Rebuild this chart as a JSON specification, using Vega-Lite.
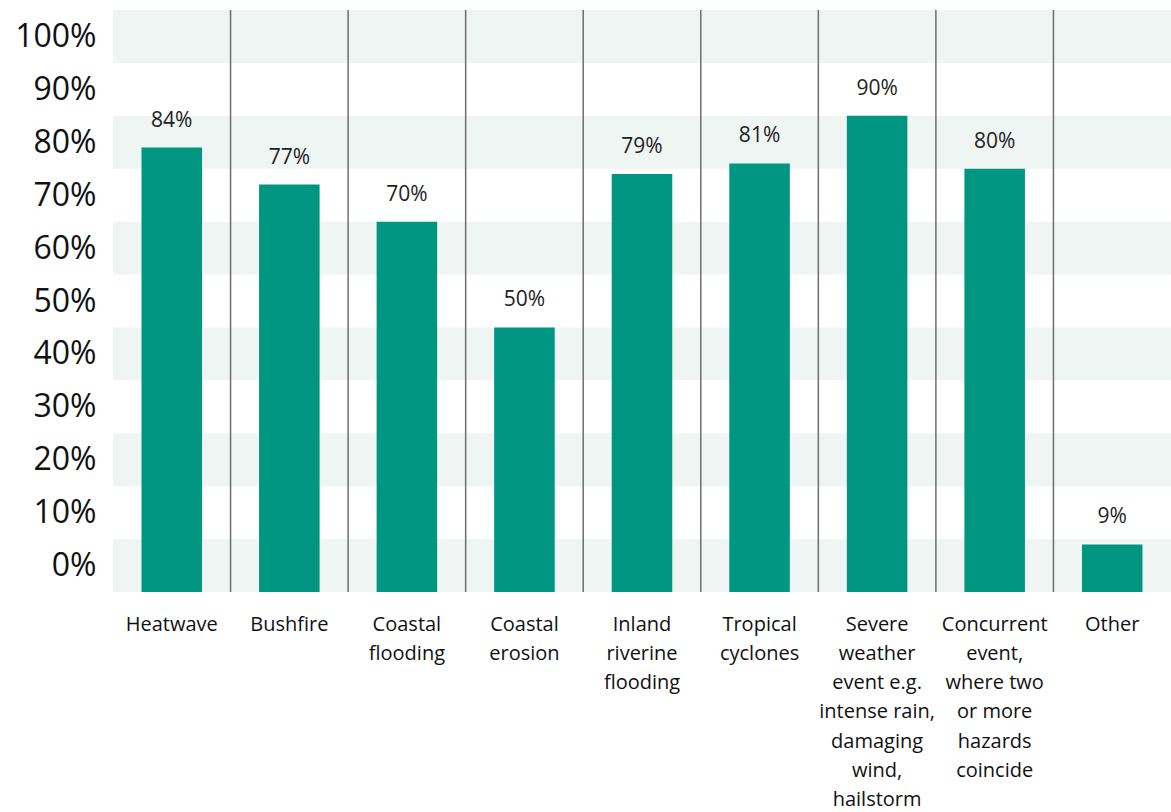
{
  "$schema": "https://vega.github.io/schema/vega-lite/v6.json",
  "width": 1058,
  "height": 582,
  "autosize": "none",
  "padding": {"left": 113, "top": 10, "right": 0, "bottom": 220},
  "background": "white",
  "config": {"view": {"stroke": null}},
  "datasets": {
    "responses": [
      {"hazard": "Heatwave", "share": 0.84},
      {"hazard": "Bushfire", "share": 0.77},
      {"hazard": "Coastal flooding", "share": 0.70},
      {"hazard": "Coastal erosion", "share": 0.50},
      {"hazard": "Inland riverine flooding", "share": 0.79},
      {"hazard": "Tropical cyclones", "share": 0.81},
      {"hazard": "Severe weather event e.g. intense rain, damaging wind, hailstorm", "share": 0.90},
      {"hazard": "Concurrent event, where two or more hazards coincide", "share": 0.80},
      {"hazard": "Other", "share": 0.09}
    ],
    "stripes": [
      {"from": 0.0, "to": 0.1},
      {"from": 0.2, "to": 0.3},
      {"from": 0.4, "to": 0.5},
      {"from": 0.6, "to": 0.7},
      {"from": 0.8, "to": 0.9},
      {"from": 1.0, "to": 1.1}
    ]
  },
  "layer": [
    {
      "data": {"name": "stripes"},
      "mark": {"type": "rect", "color": "#eff5f3"},
      "encoding": {
        "y": {
          "field": "from",
          "type": "quantitative",
          "scale": {"domain": [0, 1.1], "nice": false, "zero": true},
          "axis": {
            "title": null,
            "values": [0.05, 0.15, 0.25, 0.35, 0.45, 0.55, 0.65, 0.75, 0.85, 0.95, 1.05],
            "labelExpr": "format(datum.value - 0.05, '.0%')",
            "grid": false,
            "ticks": false,
            "domain": false,
            "labelFont": "Open Sans",
            "labelFontSize": 32,
            "labelColor": "#111111",
            "labelPadding": 17,
            "labelBaseline": "middle"
          }
        },
        "y2": {"field": "to"}
      }
    },
    {
      "data": {"name": "responses"},
      "mark": {"type": "bar", "color": "#009682", "width": {"band": 0.515}},
      "encoding": {
        "x": {
          "field": "hazard",
          "type": "nominal",
          "sort": null,
          "scale": {
            "domain": ["Heatwave", "Bushfire", "Coastal flooding", "Coastal erosion", "Inland riverine flooding", "Tropical cyclones", "Severe weather event e.g. intense rain, damaging wind, hailstorm", "Concurrent event, where two or more hazards coincide", "Other"],
            "paddingInner": 0,
            "paddingOuter": 0
          },
          "axis": {
            "title": null,
            "labelAngle": 0,
            "labelAlign": "center",
            "bandPosition": 0.5,
            "ticks": false,
            "domain": false,
            "labelFont": "Open Sans",
            "labelFontSize": 20,
            "labelColor": "#111111",
            "labelPadding": 22,
            "labelLineHeight": 29.3,
            "labelLimit": 200,
            "labelExpr": "{'Heatwave': ['Heatwave'], 'Bushfire': ['Bushfire'], 'Coastal flooding': ['Coastal', 'flooding'], 'Coastal erosion': ['Coastal', 'erosion'], 'Inland riverine flooding': ['Inland', 'riverine', 'flooding'], 'Tropical cyclones': ['Tropical', 'cyclones'], 'Severe weather event e.g. intense rain, damaging wind, hailstorm': ['Severe', 'weather', 'event e.g.', 'intense rain,', 'damaging', 'wind,', 'hailstorm'], 'Concurrent event, where two or more hazards coincide': ['Concurrent', 'event,', 'where two', 'or more', 'hazards', 'coincide'], 'Other': ['Other']}[datum.value]"
          }
        },
        "y": {"field": "share", "type": "quantitative"}
      }
    },
    {
      "data": {"name": "responses"},
      "transform": [{"filter": "datum.hazard !== 'Heatwave'"}],
      "mark": {"type": "rule", "color": "#6e6e6e", "strokeWidth": 1.5},
      "encoding": {
        "x": {"field": "hazard", "type": "nominal", "sort": null, "bandPosition": 0}
      }
    },
    {
      "data": {"name": "responses"},
      "mark": {"type": "text", "font": "Open Sans", "fontSize": 21, "color": "#222222", "baseline": "alphabetic", "dy": -21},
      "encoding": {
        "x": {"field": "hazard", "type": "nominal", "sort": null},
        "y": {"field": "share", "type": "quantitative"},
        "text": {"field": "share", "type": "quantitative", "format": ".0%"}
      }
    }
  ]
}
